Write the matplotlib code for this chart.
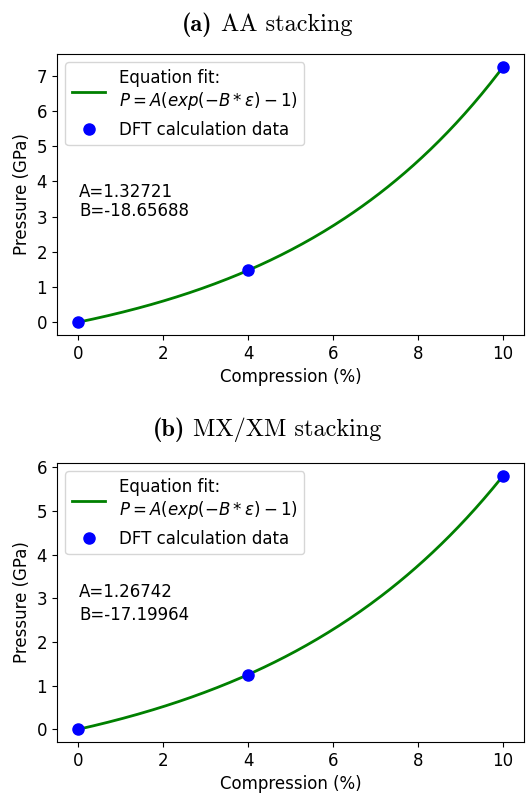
import numpy as np
import matplotlib
matplotlib.use("Agg")
import matplotlib.pyplot as plt
from matplotlib.offsetbox import TextArea, HPacker, AnchoredOffsetbox
from matplotlib.transforms import offset_copy

plt.rcParams['font.size'] = 12

# data
compression = [0, 4, 10]
pressure_aa = [0.0, 1.47, 7.25]
pressure_mx = [0.0, 1.25, 5.81]
fit_aa = (1.32721, -18.65688)
fit_mx = (1.26742, -17.19964)
title_tags = ["(a)", "(b)"]
title_names = ["AA stacking", "MX/XM stacking"]
xlabel = "Compression (%)"
ylabel = "Pressure (GPa)"
legend_fit = "Equation fit:\n$P = A(exp(-B*\\varepsilon)-1)$"
legend_dft = "DFT calculation data"

fig = plt.figure(figsize=(5.27, 7.93), dpi=100)
ax1 = fig.add_axes([0.108, 0.5776, 0.887, 0.3543])
ax2 = fig.add_axes([0.108, 0.0643, 0.887, 0.3518])

xs = np.linspace(0, 10, 200)

def draw(ax, pres, fit, tag, name, tA, tB, lift):
    A, B = fit
    ax.plot(xs, A * (np.exp(-B * xs / 100.0) - 1), color='green', lw=2, label=legend_fit)
    ax.plot(compression, pres, 'o', color='blue', ms=8, label=legend_dft)
    ax.set_xlabel(xlabel)
    ax.set_ylabel(ylabel)
    ta = TextArea(tag, textprops=dict(fontfamily='cmb10', fontsize=17.5))
    tb = TextArea(name, textprops=dict(fontfamily='cmr10', fontsize=17.5))
    box = HPacker(children=[ta, tb], align='baseline', pad=0, sep=6)
    anch = AnchoredOffsetbox(loc='lower center', child=box, pad=0, frameon=False,
                             bbox_to_anchor=(0.45, 1.0),
                             bbox_transform=offset_copy(ax.transAxes, fig=fig, y=lift, units='dots'),
                             borderpad=0)
    anch.set_clip_on(False)
    ax.add_artist(anch)
    ax.legend(loc='upper left')
    ax.text(0.02, tA, f"A={A:.5f}", va='center', ha='left')
    ax.text(0.02, tB, f"B={B:.5f}", va='center', ha='left')
    ax.set_xticks([0, 2, 4, 6, 8, 10])

draw(ax1, pressure_aa, fit_aa, title_tags[0], title_names[0], 3.70, 3.16, 17)
draw(ax2, pressure_mx, fit_mx, title_tags[1], title_names[1], 3.15, 2.62, 21)

fig.savefig("out.png", dpi=100)
